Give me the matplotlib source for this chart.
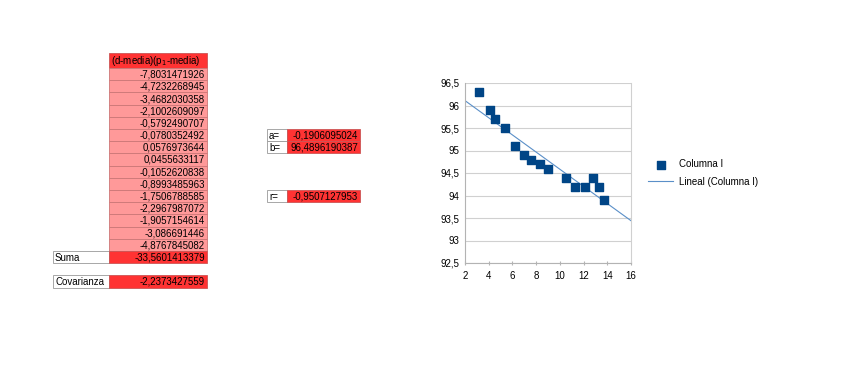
import numpy as np
import matplotlib
matplotlib.use('Agg')
import matplotlib.pyplot as plt
from matplotlib.patches import Rectangle

plt.rcParams['font.family'] = ['Liberation Sans', 'DejaVu Sans']

# table values
header = '(d-media)(p$_1$-media)'
products = ['-7,8031471926', '-4,7232268945', '-3,4682030358', '-2,1002609097',
            '-0,5792490707', '-0,0780352492', '0,0576973644', '0,0455633117',
            '-0,1052620838', '-0,8993485963', '-1,7506788585', '-2,2967987072',
            '-1,9057154614', '-3,086691446', '-4,8767845082']
suma = '-33,5601413379'
covarianza = '-2,2373427559'
coef_labels = ['a=', 'b=', 'r=']
coef_values = ['-0,1906095024', '96,4896190387', '-0,9507127953']
a, b = -0.1906095024, 96.4896190387

# chart data
x_vals = [3.2, 4.1, 4.5, 5.35, 6.25, 6.95, 7.55, 8.3, 9.0, 10.55, 11.3, 12.1, 12.8, 13.3, 13.7]
y_vals = [96.3, 95.9, 95.7, 95.5, 95.1, 94.9, 94.8, 94.7, 94.6, 94.4, 94.2, 94.2, 94.4, 94.2, 93.9]

W, H = 848, 371
fig = plt.figure(figsize=(W / 100, H / 100), dpi=100)
bg = fig.add_axes([0, 0, 1, 1])
bg.set_xlim(0, W)
bg.set_ylim(H, 0)
bg.axis('off')

light = '#ff9999'
dark = '#ff3333'
fs = 7


def cell(x0, y0, w, h, face, edge, text='', align='right', color='black'):
    bg.add_patch(Rectangle((x0, y0), w, h, facecolor=face, edgecolor=edge, lw=0.6))
    if text:
        tx = x0 + w - 2 if align == 'right' else x0 + 2
        bg.text(tx, y0 + h / 2 + 0.5, text, ha=align, va='center', fontsize=fs, color=color)


col_x, col_w = 109, 98
top, rh = 68, 12.2
cell(col_x, 53, col_w, top - 53, dark, '#cc5555', header, align='left')
for i, v in enumerate(products):
    cell(col_x, top + i * rh, col_w, rh, light, '#cc7777', v)

# Suma / Covarianza
y_s = top + 15 * rh
cell(53, y_s, col_x - 53, rh, 'white', '#999999', 'Suma', align='left')
cell(col_x, y_s, col_w, rh, dark, '#cc5555', suma)
y_c = top + 17 * rh
cell(53, y_c, col_x - 53, rh, 'white', '#999999', 'Covarianza', align='left')
cell(col_x, y_c, col_w, rh, dark, '#cc5555', covarianza)

# coefficients
for lab, val, row in zip(coef_labels, coef_values, [5, 6, 10]):
    y0 = top + row * rh
    cell(267, y0, 20, rh, 'white', '#999999', lab, align='left')
    cell(287, y0, 73, rh, dark, '#cc5555', val)

# chart
ax = fig.add_axes([465 / W, 1 - 263 / H, (631 - 465) / W, (263 - 83) / H])
ax.scatter(x_vals, y_vals, marker='s', s=38, color='#004586', zorder=3, label='Columna I')
xl = np.array([2, 16])
ax.plot(xl, a * xl + b, color='#5a8fc8', lw=0.8, zorder=2, label='Lineal (Columna I)')
ax.set_xlim(2, 16)
ax.set_ylim(92.5, 96.5)
ax.set_xticks(range(2, 17, 2))
yt = np.arange(92.5, 96.51, 0.5)
ax.set_yticks(yt)
ax.set_yticklabels([('%g' % t).replace('.', ',') for t in yt])
ax.yaxis.grid(True, color='#d0d0d0', lw=0.8)
ax.set_axisbelow(True)
ax.spines['top'].set_visible(False)
ax.spines['right'].set_color('#d0d0d0')
ax.spines['left'].set_color('#b3b3b3')
ax.spines['bottom'].set_color('#b3b3b3')
ax.tick_params(labelsize=fs, length=3, color='#b3b3b3', pad=4)
ax.tick_params(axis='x', direction='inout')
ax.tick_params(axis='y', length=0)

ax.legend(loc='center left', bbox_to_anchor=(1.05, 0.5), frameon=False, fontsize=fs,
          handlelength=2.6, handletextpad=0.6, labelspacing=0.8)

fig.savefig('out.png', dpi=100)
